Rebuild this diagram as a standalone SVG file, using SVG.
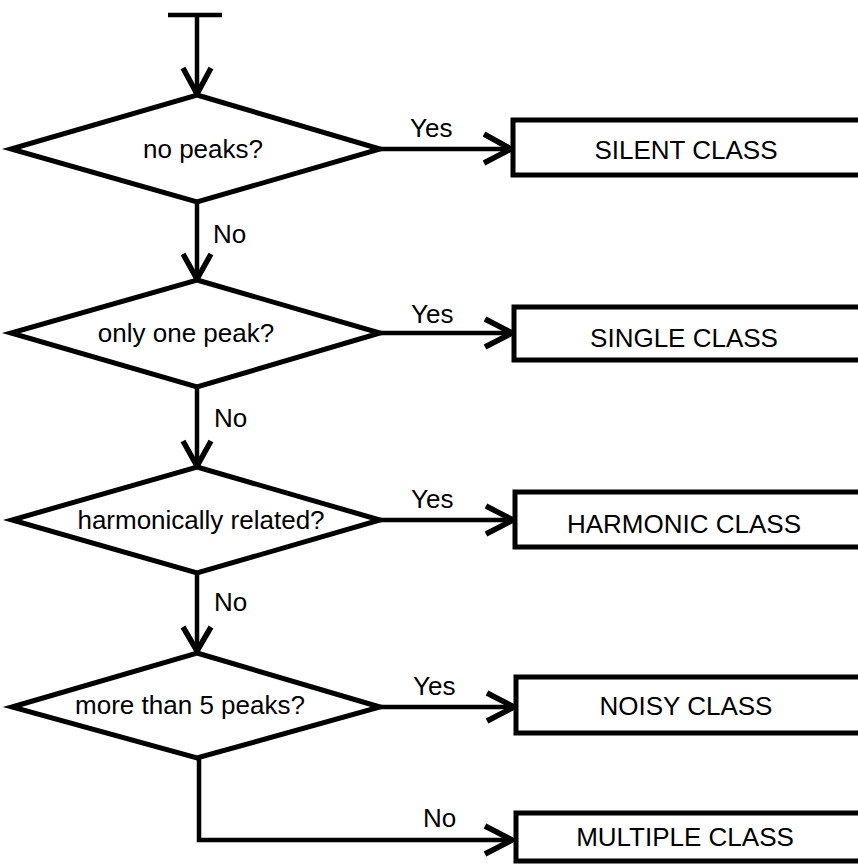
<svg xmlns="http://www.w3.org/2000/svg" width="858" height="864" viewBox="0 0 858 864">
<style>
.shape{fill:#fff;stroke:#000;stroke-width:5;stroke-linejoin:miter}
.box{fill:#fff;stroke:#000;stroke-width:5}
.line{fill:none;stroke:#000;stroke-width:4.5;stroke-linejoin:miter}
.head{fill:none;stroke:#000;stroke-width:5.5;stroke-linecap:butt;stroke-linejoin:miter}
text{font-family:"Liberation Sans",Arial,Helvetica,sans-serif;font-size:26px;fill:#000}
.mid{text-anchor:middle}
</style>
<rect width="858" height="864" fill="#fff"/>
<g id="connectors">
  <line class="line" x1="168" y1="15" x2="222" y2="15"/>
  <line class="line" x1="197" y1="15" x2="197" y2="93"/>
  <polyline class="head" points="183,68 197,94 211,68"/>
  <line class="line" x1="197" y1="202" x2="197" y2="278"/>
  <polyline class="head" points="183,254 197,279 211,254"/>
  <line class="line" x1="197" y1="387" x2="197" y2="465"/>
  <polyline class="head" points="183,441 197,466 211,441"/>
  <line class="line" x1="197" y1="573" x2="197" y2="650"/>
  <polyline class="head" points="183,627 197,651 211,627"/>
  <polyline class="line" points="199,758 199,840 511,840"/>
  <polyline class="head" points="485,826 512,840 485,854"/>
  <line class="line" x1="380" y1="149" x2="510" y2="149"/>
  <polyline class="head" points="484,134 511,149 484,163"/>
  <line class="line" x1="380" y1="333" x2="511" y2="333"/>
  <polyline class="head" points="485,319 512,333 485,347"/>
  <line class="line" x1="380" y1="520" x2="512" y2="520"/>
  <polyline class="head" points="486,506 513,520 486,534"/>
  <line class="line" x1="380" y1="707" x2="513" y2="707"/>
  <polyline class="head" points="487,693 514,707 487,721"/>
  <text x="410" y="137">Yes</text>
  <text x="411" y="323">Yes</text>
  <text x="411" y="508">Yes</text>
  <text x="413" y="695">Yes</text>
  <text x="423" y="827">No</text>
  <text x="213" y="243">No</text>
  <text x="214" y="427">No</text>
  <text x="214" y="611">No</text>
</g>
<g id="d1">
  <polygon class="shape" points="197,95 380,149 197,202 11,149"/>
  <text class="mid" x="203" y="158">no peaks?</text>
</g>
<g id="d2">
  <polygon class="shape" points="197,280 380,333 197,387 11,333"/>
  <text class="mid" x="186" y="342">only one peak?</text>
</g>
<g id="d3">
  <polygon class="shape" points="197,467 380,520 197,573 12,520"/>
  <text class="mid" x="201" y="529">harmonically related?</text>
</g>
<g id="d4">
  <polygon class="shape" points="197,653 380,707 197,758 12,707"/>
  <text class="mid" x="190" y="714">more than 5 peaks?</text>
</g>
<g id="silent">
  <rect class="box" x="513" y="120" width="360" height="55"/>
  <text class="mid" x="686" y="159">SILENT CLASS</text>
</g>
<g id="single">
  <rect class="box" x="514" y="307" width="360" height="53"/>
  <text class="mid" x="684" y="347">SINGLE CLASS</text>
</g>
<g id="harmonic">
  <rect class="box" x="515" y="492" width="360" height="55"/>
  <text class="mid" x="684" y="533">HARMONIC CLASS</text>
</g>
<g id="noisy">
  <rect class="box" x="516" y="677" width="360" height="56"/>
  <text class="mid" x="686" y="715">NOISY CLASS</text>
</g>
<g id="multiple">
  <rect class="box" x="516" y="813" width="360" height="48"/>
  <text class="mid" x="685" y="846">MULTIPLE CLASS</text>
</g>
</svg>
